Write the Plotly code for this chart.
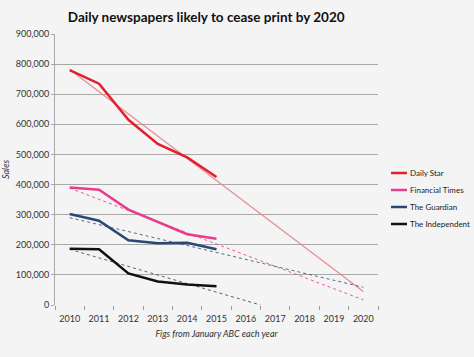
import plotly.graph_objects as go

years = [2010, 2011, 2012, 2013, 2014, 2015]
daily_star = [780000, 735000, 615000, 535000, 490000, 425000]
financial_times = [390000, 383000, 317000, 275000, 235000, 220000]
guardian = [302000, 280000, 215000, 205000, 207000, 185000]
independent = [187000, 185000, 105000, 78000, 68000, 62000]

series_names = ["Daily Star", "Financial Times", "The Guardian", "The Independent"]

# trend line end points
ds_trend_x = [2010, 2020]
ds_trend_y = [782000, 45000]
ft_trend_x = [2010, 2020]
ft_trend_y = [388000, 17000]
gu_trend_x = [2010, 2020]
gu_trend_y = [290000, 59000]
in_trend_x = [2010, 2016.5]
in_trend_y = [185000, 0]

x_ticks = list(range(2010, 2021))
y_ticks = list(range(0, 900001, 100000))

red = "#e3202b"
pink = "#ea3c8e"
blue = "#2a4775"
black = "#111111"
series_colors = [red, pink, blue, black]
series_values = [daily_star, financial_times, guardian, independent]

fig = go.Figure()
# trend lines
fig.add_trace(go.Scatter(x=ds_trend_x, y=ds_trend_y, mode="lines", showlegend=False,
                         line=dict(color="rgba(232,130,140,0.9)", width=1.3)))
fig.add_trace(go.Scatter(x=ft_trend_x, y=ft_trend_y, mode="lines", showlegend=False,
                         line=dict(color="rgba(234,60,142,0.85)", width=1, dash="dot")))
fig.add_trace(go.Scatter(x=gu_trend_x, y=gu_trend_y, mode="lines", showlegend=False,
                         line=dict(color="rgba(60,80,110,0.85)", width=1, dash="dot")))
fig.add_trace(go.Scatter(x=in_trend_x, y=in_trend_y, mode="lines", showlegend=False,
                         line=dict(color="rgba(70,70,70,0.85)", width=1, dash="dot")))

# data lines
for name, vals, col in zip(series_names, series_values, series_colors):
    fig.add_trace(go.Scatter(x=years, y=vals, mode="lines", name=name, showlegend=False,
                             line=dict(color=col, width=2.5)))

font_family = "Lato, 'Open Sans', sans-serif"

# legend drawn in paper space (plot area: 323 x 271 px)
plot_w, plot_h = 323.0, 271.0
leg_x0 = 336 / plot_w
leg_x1 = 352 / plot_w
leg_top = 132 / plot_h
leg_step = 17 / plot_h
for i, (name, col) in enumerate(zip(series_names, series_colors)):
    yy = leg_top - i * leg_step
    fig.add_shape(type="line", xref="paper", yref="paper", x0=leg_x0, x1=leg_x1,
                  y0=yy, y1=yy, line=dict(color=col, width=2.5))
    fig.add_annotation(xref="paper", yref="paper", x=leg_x1 + 1 / plot_w, y=yy,
                       xanchor="left", yanchor="middle", showarrow=False, text=name,
                       font=dict(size=8, color="#222222", family=font_family))

fig.update_layout(
    width=474, height=357,
    margin=dict(l=55, r=96, t=34, b=52),
    paper_bgcolor="#f4f4f4",
    plot_bgcolor="#f4f4f4",
    font=dict(family=font_family, size=9, color="#333333"),
    showlegend=False,
    title=dict(text="<b>Daily newspapers likely to cease print by 2020</b>",
               x=0.435, xanchor="center", y=0.965, yanchor="top",
               font=dict(size=13.5, color="#111111", family=font_family)),
    xaxis=dict(
        range=[2009.5, 2020.5], tickvals=x_ticks, ticktext=[str(v) for v in x_ticks],
        showgrid=False, zeroline=False, showline=False,
        ticks="outside", ticklen=5, tickcolor="rgba(0,0,0,0)",
        tickfont=dict(size=9, color="#333333"),
        title=dict(text="<i>Figs from January ABC each year</i>", standoff=7,
                   font=dict(size=9, color="#333333")),
        minor=dict(tickvals=[y + 0.5 for y in range(2009, 2021)], ticks="outside",
                   ticklen=4, tickcolor="#999999", showgrid=False),
        automargin=False,
        fixedrange=True,
    ),
    yaxis=dict(
        range=[0, 900000], tickvals=y_ticks, tickformat=",d",
        showgrid=True, gridcolor="#a8a8a8", gridwidth=1,
        zeroline=False, showline=True, linecolor="#a8a8a8",
        ticks="outside", ticklen=3, tickcolor="#a8a8a8",
        tickfont=dict(size=9, color="#333333"),
        title=dict(text="<i>Sales</i>", standoff=5, font=dict(size=9, color="#333333")),
        automargin=False,
        fixedrange=True,
    ),
)

fig.write_html("out.html", config={"displayModeBar": False},
               post_script="document.body.style.margin='0';")
